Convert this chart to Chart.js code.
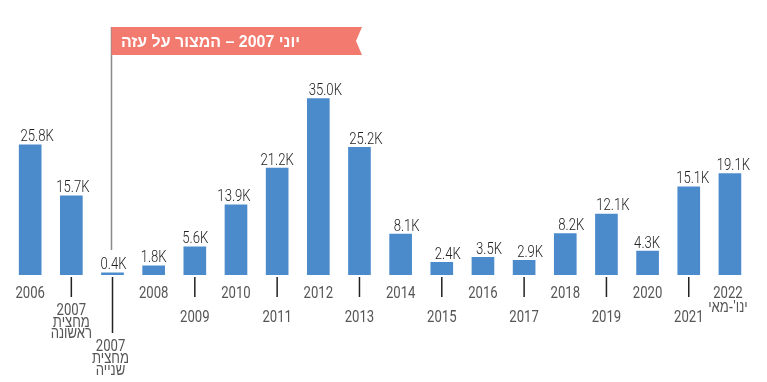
<!DOCTYPE html>
<html>
<head>
<meta charset="utf-8">
<script src="https://cdn.jsdelivr.net/npm/chart.js@4"></script>
<style>
html,body{margin:0;padding:0;background:#fff;}
canvas{display:block;}
</style>
</head>
<body>
<canvas id="c" width="767" height="382"></canvas>
<script>
// ---- DATA ----
const categories = ['2006','2007 מחצית ראשונה','2007 מחצית שנייה','2008','2009','2010','2011','2012','2013','2014','2015','2016','2017','2018','2019','2020','2021',"2022 ינו'-מאי"];
// bar heights as drawn in the picture (thousands)
const values = [25.8, 15.7, 0.45, 1.8, 5.6, 13.9, 21.2, 35.0, 25.3, 8.1, 2.5, 3.5, 2.9, 8.2, 12.1, 4.75, 17.5, 20.1];
// value labels as printed in the picture
const valueLabels = ['25.8K','15.7K','0.4K','1.8K','5.6K','13.9K','21.2K','35.0K','25.2K','8.1K','2.4K','3.5K','2.9K','8.2K','12.1K','4.3K','15.1K','19.1K'];
const tickLabels = [
  ['2006'], ['2007','מחצית','ראשונה'], ['2007','מחצית','שנייה'], ['2008'], ['2009'], ['2010'],
  ['2011'], ['2012'], ['2013'], ['2014'], ['2015'], ['2016'], ['2017'], ['2018'], ['2019'],
  ['2020'], ['2021'], ['2022',"ינו'-מאי"]
];
const annotationText = 'יוני 2007 – המצור על עזה';
const annotationIndex = 2;

// ---- STYLE ----
const BAR = '#4b8bcc';
const SX = 0.82;
const labelShift = [7,1.5,1,0,0.5,-2,0,7,6.5,6,6,6,6,6,6.5,-0.5,4,3.5];

function hasHeb(s){ return /[\u0590-\u05FF]/.test(s); }
function condText(ctx, str, x, y, sx, font){
  ctx.save();
  ctx.font = font;
  ctx.direction = hasHeb(str) ? 'rtl' : 'ltr';
  ctx.textAlign = 'center';
  ctx.textBaseline = 'alphabetic';
  ctx.translate(x, y);
  ctx.scale(sx, 1);
  ctx.fillText(str, 0, 0);
  ctx.restore();
}

const overlay = {
  id: 'overlay',
  afterDatasetsDraw(chart){
    const ctx = chart.ctx;
    const meta = chart.getDatasetMeta(0);
    const valFont = '300 16px Roboto';
    const numFont = '16px Roboto';
    const hebFont = '16px "Liberation Sans", "DejaVu Sans"';

    // annotation line + banner
    const ax = meta.data[annotationIndex].x - 1;
    ctx.save();
    ctx.strokeStyle = '#8a8a8a';
    ctx.lineWidth = 1.5;
    ctx.beginPath(); ctx.moveTo(ax, 27); ctx.lineTo(ax, 250); ctx.stroke();
    ctx.fillStyle = '#f27a6e';
    ctx.beginPath();
    ctx.moveTo(ax, 27); ctx.lineTo(362, 27); ctx.lineTo(356, 41); ctx.lineTo(362, 55); ctx.lineTo(ax, 55);
    ctx.closePath(); ctx.fill();
    ctx.font = 'bold 16px "Liberation Sans", "DejaVu Sans"';
    ctx.direction = 'rtl';
    const w = ctx.measureText(annotationText).width;
    const s = Math.min(1, 179 / w);
    ctx.fillStyle = '#ffffff';
    ctx.textAlign = 'center';
    ctx.translate(210.5, 47);
    ctx.scale(s, 1);
    ctx.fillText(annotationText, 0, 0);
    ctx.restore();

    meta.data.forEach((el, i) => {
      const x = el.x;
      // value labels
      ctx.fillStyle = '#222222';
      condText(ctx, valueLabels[i], x + labelShift[i], el.y - 3.5, SX, valFont);

      // ticks & axis labels
      const lines = tickLabels[i];
      let y0, lh = 12, tickEnd = null;
      if (i === 1) { y0 = 315; lh = 11.5; tickEnd = 297; }
      else if (i === 2) { y0 = 351; lh = 12; tickEnd = 333; }
      else if (i >= 3 && i % 2 === 0) { y0 = 322; tickEnd = 297; }
      else { y0 = 298; lh = 14; }
      if (tickEnd) {
        ctx.save();
        ctx.strokeStyle = '#222';
        ctx.lineWidth = 1.5;
        ctx.beginPath(); ctx.moveTo(x, 277); ctx.lineTo(x, tickEnd); ctx.stroke();
        ctx.restore();
      }
      ctx.fillStyle = '#555555';
      lines.forEach((t, k) => {
        const heb = hasHeb(t);
        condText(ctx, t, x - (i === 2 ? 2 : 0) - (i === 17 ? 2 : 0), y0 + k * lh, heb ? 0.82 : SX, heb ? hebFont : numFont);
      });
    });
  }
};

new Chart(document.getElementById('c'), {
  type: 'bar',
  data: {
    labels: categories,
    datasets: [{ data: values, backgroundColor: BAR, borderWidth: 0, barThickness: 22 }]
  },
  options: {
    responsive: false,
    animation: false,
    devicePixelRatio: 1,
    layout: { padding: { left: 9.6, right: 16.5, top: 22.8, bottom: 107 } },
    plugins: { legend: { display: false }, tooltip: { enabled: false } },
    scales: {
      x: { display: false, offset: true },
      y: { display: false, min: 0, max: 50 }
    }
  },
  plugins: [overlay]
});
</script>
</body>
</html>
